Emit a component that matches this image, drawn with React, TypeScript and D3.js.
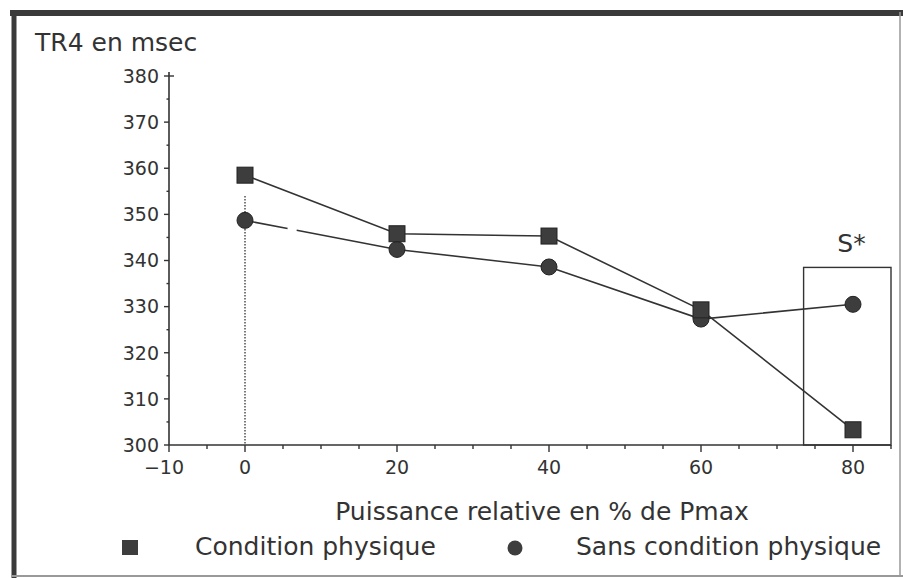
import React from "react";
import * as d3 from "d3";

const xValues = [0, 20, 40, 60, 80];
const conditionPhysique = [358.5, 345.8, 345.3, 329.3, 303.3];
const sansCondition = [348.7, 342.4, 338.6, 327.3, 330.5];
const yTicks = [300, 310, 320, 330, 340, 350, 360, 370, 380];
const xTickLabels = [-10, 0, 20, 40, 60, 80];
const yTitle = "TR4 en msec";
const xTitle = "Puissance relative en % de Pmax";
const seriesNames = ["Condition physique", "Sans condition physique"];
const boxLabel = "S*";

const W = 903;
const H = 578;
const FONT = "'DejaVu Sans', sans-serif";
const INK = "#333";
const BIG = 25;
const TICK = 19;

export default function App() {
  const x = d3.scaleLinear().domain([-10, 80]).range([169, 853]);
  const y = d3.scaleLinear().domain([300, 380]).range([445, 76]);
  const xMinorTicks = d3.range(-10, 86, 5);
  const yMinorTicks = d3.range(300, 381, 5);
  const fmt = d3.format("d");

  const lineGen = (vals: number[], xs: number[]) =>
    d3
      .line<number>()
      .x((_, i) => x(xs[i]))
      .y((d) => y(d))(vals) || "";

  const sq = 16;
  const r = 8;

  const c0 = [x(xValues[0]), y(sansCondition[0])];
  const c1 = [x(xValues[1]), y(sansCondition[1])];

  return (
    <svg
      width={W}
      height={H}
      style={{ position: "absolute", left: 0, top: 0, background: "#fff" }}
      fontFamily={FONT}
    >
      {/* frame */}
      <line x1={10} y1={13} x2={903} y2={13} stroke="#3a3a3a" strokeWidth={6} />
      <line x1={14} y1={10} x2={14} y2={578} stroke="#3a3a3a" strokeWidth={5} />
      <line x1={900} y1={12} x2={900} y2={576} stroke="#999" strokeWidth={1.5} />
      <line x1={12} y1={576} x2={903} y2={576} stroke="#999" strokeWidth={2} />

      {/* y title */}
      <text x={35} y={51} fontSize={BIG} fill={INK}>
        {yTitle}
      </text>

      {/* y axis */}
      <line x1={x(-10)} y1={y(380) - 4} x2={x(-10)} y2={y(300)} stroke={INK} strokeWidth={1.6} />
      {yMinorTicks.map((t) => (
        <line
          key={"ym" + t}
          x1={x(-10) - (t % 10 === 0 ? 5 : 2.5)}
          x2={x(-10) + (t === 380 ? 5 : 0)}
          y1={y(t)}
          y2={y(t)}
          stroke={INK}
          strokeWidth={1.4}
        />
      ))}
      {yTicks.map((t) => (
        <text
          key={"yl" + t}
          x={x(-10) - 10}
          y={y(t)}
          dy="0.36em"
          textAnchor="end"
          fontSize={TICK}
          fill={INK}
        >
          {fmt(t)}
        </text>
      ))}

      {/* x axis */}
      <line x1={x(-10)} y1={y(300)} x2={x(85)} y2={y(300)} stroke={INK} strokeWidth={1.6} />
      {xMinorTicks.map((t) => (
        <line
          key={"xm" + t}
          x1={x(t)}
          x2={x(t)}
          y1={y(300)}
          y2={y(300) + (xTickLabels.includes(t) ? 7 : 4)}
          stroke={INK}
          strokeWidth={1.4}
        />
      ))}
      {xTickLabels.map((t) => (
        <text
          key={"xl" + t}
          x={x(t) - (t < 0 ? 5 : 0)}
          y={y(300) + 29}
          textAnchor="middle"
          fontSize={TICK}
          fill={INK}
        >
          {fmt(t)}
        </text>
      ))}

      {/* dotted reference at 0 */}
      <line
        x1={x(0)}
        x2={x(0)}
        y1={y(354)}
        y2={y(300)}
        stroke={INK}
        strokeWidth={1.3}
        strokeDasharray="1.5,1.5"
      />

      {/* S* box */}
      <rect
        x={x(73.5)}
        y={y(338.5)}
        width={x(85) - x(73.5)}
        height={y(300) - y(338.5)}
        fill="none"
        stroke={INK}
        strokeWidth={1.4}
      />
      <text x={x(79.8)} y={y(341.8)} textAnchor="middle" fontSize={BIG} fill={INK}>
        {boxLabel}
      </text>

      {/* lines */}
      <path d={lineGen(conditionPhysique, xValues)} fill="none" stroke={INK} strokeWidth={1.6} />
      <line
        x1={c0[0]}
        y1={c0[1]}
        x2={c1[0]}
        y2={c1[1]}
        pathLength={100}
        strokeDasharray="28 6 66"
        stroke={INK}
        strokeWidth={1.6}
      />
      <path
        d={lineGen(sansCondition.slice(1), xValues.slice(1))}
        fill="none"
        stroke={INK}
        strokeWidth={1.6}
      />

      {/* markers */}
      {sansCondition.map((v, i) => (
        <circle key={"c" + i} cx={x(xValues[i])} cy={y(v)} r={r} fill="#3d3d3d" stroke="#222" strokeWidth={1} />
      ))}
      {conditionPhysique.map((v, i) => (
        <rect
          key={"s" + i}
          x={x(xValues[i]) - sq / 2}
          y={y(v) - sq / 2}
          width={sq}
          height={sq}
          fill="#3d3d3d"
          stroke="#222"
          strokeWidth={1}
        />
      ))}

      {/* x title */}
      <text x={542} y={520} textAnchor="middle" fontSize={BIG} fill={INK}>
        {xTitle}
      </text>

      {/* legend */}
      <rect x={122} y={540} width={16} height={15} fill="#3d3d3d" />
      <text x={195} y={555} fontSize={BIG} fill={INK}>
        {seriesNames[0]}
      </text>
      <circle cx={515} cy={548} r={7.5} fill="#3d3d3d" />
      <text x={576} y={555} fontSize={BIG} fill={INK}>
        {seriesNames[1]}
      </text>
    </svg>
  );
}
